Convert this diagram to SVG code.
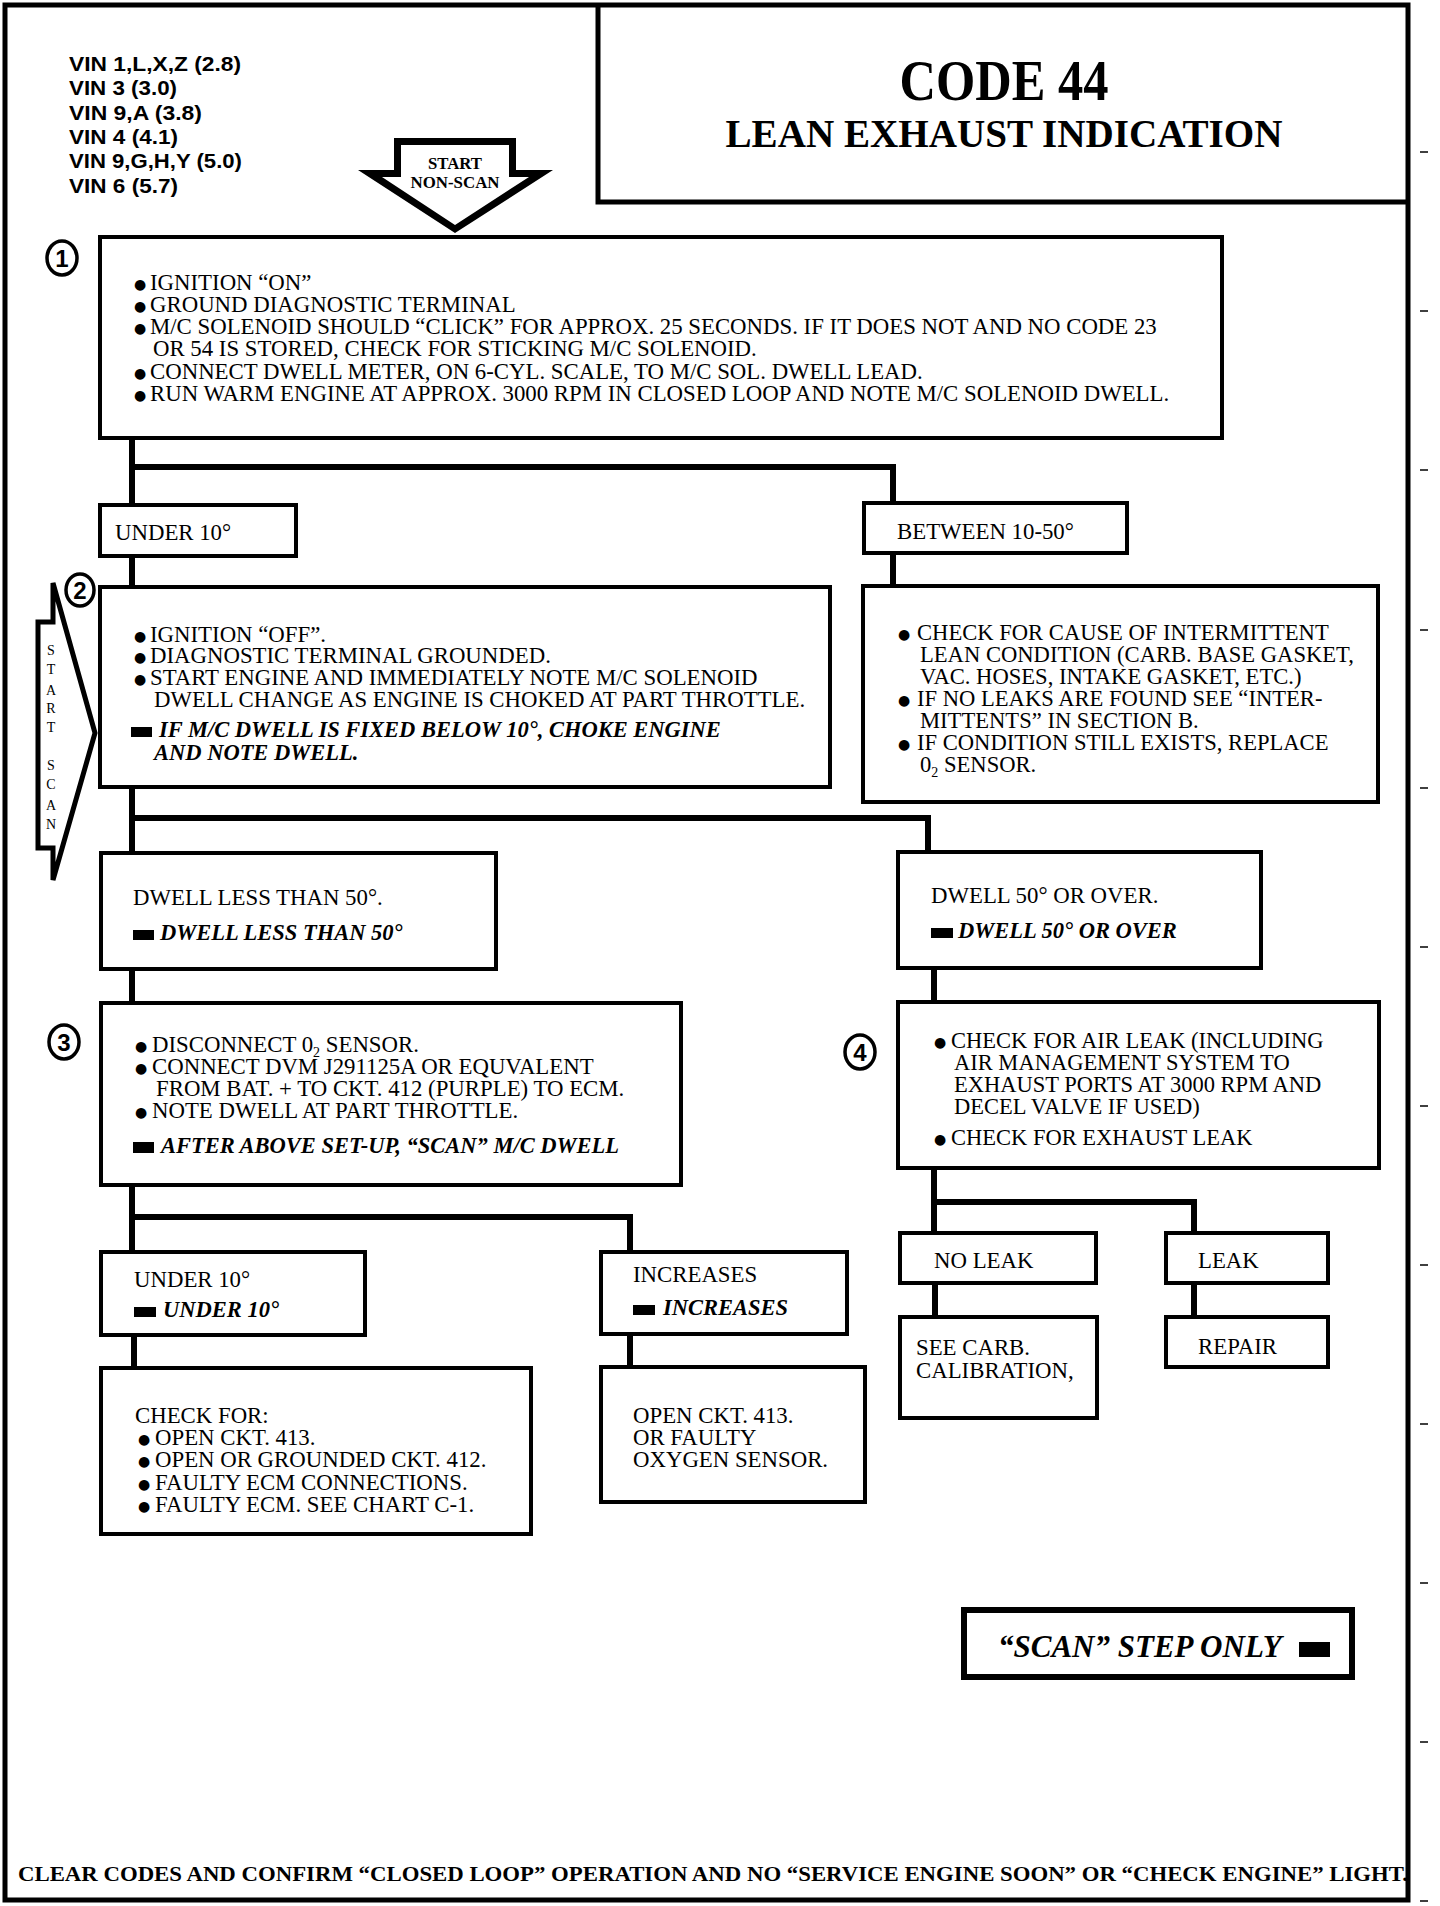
<svg xmlns="http://www.w3.org/2000/svg" width="1440" height="1906" viewBox="0 0 1440 1906">
<style>
.t{font-family:"Liberation Serif","Times New Roman",serif;font-size:22.8px;fill:#000}
.bi{font-weight:bold;font-style:italic;font-size:22.5px}
.bl{font-family:"DejaVu Sans",sans-serif;font-size:14px;fill:#000}
.box{fill:#fff;stroke:#000;stroke-width:4}
.conn{fill:none;stroke:#000;stroke-width:6;stroke-linecap:square}
.num{font-family:"Liberation Sans",Arial,sans-serif;font-weight:bold;font-size:24px;text-anchor:middle;fill:#000}
.circ{fill:#fff;stroke:#000;stroke-width:3.5}
.vin{font-family:"Liberation Sans",Arial,sans-serif;font-weight:bold;font-size:21px;fill:#000}
.tick{stroke:#000;stroke-width:1.5}
.sq{fill:#000}
.sub{font-size:14px}
</style>
<rect width="1440" height="1906" fill="#fff"/>
<g id="frame">
<path d="M5,5 H1408 V1900 H5 Z" fill="none" stroke="#000" stroke-width="5"/>
<g class="tick">
<line x1="1420" y1="152" x2="1428" y2="152"/><line x1="1420" y1="311" x2="1428" y2="311"/>
<line x1="1420" y1="470" x2="1428" y2="470"/><line x1="1420" y1="630" x2="1428" y2="630"/>
<line x1="1420" y1="788" x2="1428" y2="788"/><line x1="1420" y1="947" x2="1428" y2="947"/>
<line x1="1420" y1="1106" x2="1428" y2="1106"/><line x1="1420" y1="1265" x2="1428" y2="1265"/>
<line x1="1420" y1="1424" x2="1428" y2="1424"/><line x1="1420" y1="1583" x2="1428" y2="1583"/>
<line x1="1420" y1="1742" x2="1428" y2="1742"/><line x1="1420" y1="1901" x2="1428" y2="1901"/>
</g>
</g>
<g id="title">
<path d="M598,5 V202 H1408" fill="none" stroke="#000" stroke-width="5"/>
<text class="t" x="1004" y="100" style="font-size:56px;font-weight:bold" text-anchor="middle" textLength="209" lengthAdjust="spacingAndGlyphs">CODE 44</text>
<text class="t" x="1004" y="147" style="font-size:40px;font-weight:bold" text-anchor="middle" textLength="557" lengthAdjust="spacingAndGlyphs">LEAN EXHAUST INDICATION</text>
</g>
<g id="vin">
<text class="vin" x="69" y="71" textLength="172" lengthAdjust="spacingAndGlyphs">VIN 1,L,X,Z (2.8)</text>
<text class="vin" x="69" y="95" textLength="108" lengthAdjust="spacingAndGlyphs">VIN 3 (3.0)</text>
<text class="vin" x="69" y="120" textLength="133" lengthAdjust="spacingAndGlyphs">VIN 9,A (3.8)</text>
<text class="vin" x="69" y="144" textLength="109" lengthAdjust="spacingAndGlyphs">VIN 4 (4.1)</text>
<text class="vin" x="69" y="168" textLength="173" lengthAdjust="spacingAndGlyphs">VIN 9,G,H,Y (5.0)</text>
<text class="vin" x="69" y="193" textLength="109" lengthAdjust="spacingAndGlyphs">VIN 6 (5.7)</text>
</g>
<g id="start-nonscan">
<path fill-rule="evenodd" fill="#000" d="M394,138 H516 V170 H553 L455,233 L358,170 H394 Z M401,145 V177 H382 L455,225 L529,177 H509 V145 Z"/>
<text class="t" x="455" y="169" style="font-size:17px;font-weight:bold" text-anchor="middle" textLength="54" lengthAdjust="spacingAndGlyphs">START</text>
<text class="t" x="455" y="188" style="font-size:17px;font-weight:bold" text-anchor="middle" textLength="89" lengthAdjust="spacingAndGlyphs">NON-SCAN</text>
</g>
<g id="start-scan">
<polygon points="53,583 95,733 53,880 53,848 38,848 38,622 53,622" fill="#fff" stroke="#000" stroke-width="5" stroke-linejoin="miter"/>
<g class="t" style="font-size:14px" text-anchor="middle">
<text x="51" y="655">S</text><text x="51" y="674">T</text><text x="51" y="695">A</text><text x="51" y="713">R</text><text x="51" y="732">T</text>
<text x="51" y="770">S</text><text x="51" y="789">C</text><text x="51" y="810">A</text><text x="51" y="829">N</text>
</g>
</g>
<g id="connectors">
<path class="conn" d="M132,438 V505 M132,467 H893 V503"/>
<path class="conn" d="M132,556 V587 M893,553 V586"/>
<path class="conn" d="M132,787 V853 M132,818 H928 V852"/>
<path class="conn" d="M132,970 V1003 M934,968 V1002"/>
<path class="conn" d="M132,1185 V1252 M132,1217 H630 V1252"/>
<path class="conn" d="M134,1335 V1368 M630,1334 V1367"/>
<path class="conn" d="M934,1168 V1233 M934,1202 H1194 V1233"/>
<path class="conn" d="M935,1283 V1317 M1194,1283 V1317"/>
</g>
<g id="step1">
<ellipse class="circ" cx="62" cy="258" rx="15" ry="17"/>
<text class="num" x="62" y="267">1</text>
<rect class="box" x="100" y="237" width="1122" height="201"/>
<g class="bl"><text x="134" y="289">●</text><text x="134" y="311">●</text><text x="134" y="333">●</text><text x="134" y="378">●</text><text x="134" y="400">●</text></g>
<text class="t" x="150" y="290">IGNITION “ON”</text>
<text class="t" x="150" y="312">GROUND DIAGNOSTIC TERMINAL</text>
<text class="t" x="150" y="334">M/C SOLENOID SHOULD “CLICK” FOR APPROX. 25 SECONDS. IF IT DOES NOT AND NO CODE 23</text>
<text class="t" x="153" y="356">OR 54 IS STORED, CHECK FOR STICKING M/C SOLENOID.</text>
<text class="t" x="150" y="379">CONNECT DWELL METER, ON 6-CYL. SCALE, TO M/C SOL. DWELL LEAD.</text>
<text class="t" x="150" y="401">RUN WARM ENGINE AT APPROX. 3000 RPM IN CLOSED LOOP AND NOTE M/C SOLENOID DWELL.</text>
</g>
<g id="under10-a">
<rect class="box" x="100" y="505" width="196" height="51"/>
<text class="t" x="115" y="540">UNDER 10°</text>
</g>
<g id="between">
<rect class="box" x="864" y="503" width="263" height="50"/>
<text class="t" x="897" y="539">BETWEEN 10-50°</text>
</g>
<g id="step2">
<ellipse class="circ" cx="80" cy="590" rx="14" ry="16"/>
<text class="num" x="80" y="599">2</text>
<rect class="box" x="100" y="587" width="730" height="200"/>
<g class="bl"><text x="134" y="641">●</text><text x="134" y="662">●</text><text x="134" y="684">●</text></g>
<text class="t" x="150" y="642">IGNITION “OFF”.</text>
<text class="t" x="150" y="663">DIAGNOSTIC TERMINAL GROUNDED.</text>
<text class="t" x="150" y="685">START ENGINE AND IMMEDIATELY NOTE M/C SOLENOID</text>
<text class="t" x="154" y="707">DWELL CHANGE AS ENGINE IS CHOKED AT PART THROTTLE.</text>
<rect class="sq" x="131" y="727" width="21" height="10"/>
<text class="t bi" x="159" y="737">IF M/C DWELL IS FIXED BELOW 10°, CHOKE ENGINE</text>
<text class="t bi" x="154" y="760">AND NOTE DWELL.</text>
</g>
<g id="intermittent">
<rect class="box" x="863" y="586" width="515" height="216"/>
<g class="bl"><text x="898" y="639">●</text><text x="898" y="705">●</text><text x="898" y="749">●</text></g>
<text class="t" x="917" y="640" style="font-size:22.6px">CHECK FOR CAUSE OF INTERMITTENT</text>
<text class="t" x="920" y="662" style="font-size:22.6px">LEAN CONDITION (CARB. BASE GASKET,</text>
<text class="t" x="920" y="684" style="font-size:22.6px">VAC. HOSES, INTAKE GASKET, ETC.)</text>
<text class="t" x="917" y="706" style="font-size:22.6px">IF NO LEAKS ARE FOUND SEE “INTER-</text>
<text class="t" x="920" y="728" style="font-size:22.6px">MITTENTS” IN SECTION B.</text>
<text class="t" x="917" y="750" style="font-size:22.6px">IF CONDITION STILL EXISTS, REPLACE</text>
<text class="t" x="920" y="772" style="font-size:22.6px">0<tspan class="sub" dy="5">2</tspan><tspan dy="-5"> SENSOR.</tspan></text>
</g>
<g id="dwell-less">
<rect class="box" x="101" y="853" width="395" height="116"/>
<text class="t" x="133" y="905">DWELL LESS THAN 50°.</text>
<rect class="sq" x="133" y="930" width="21" height="10"/>
<text class="t bi" x="160" y="940">DWELL LESS THAN 50°</text>
</g>
<g id="dwell-over">
<rect class="box" x="898" y="852" width="363" height="116"/>
<text class="t" x="931" y="903">DWELL 50° OR OVER.</text>
<rect class="sq" x="931" y="928" width="22" height="10"/>
<text class="t bi" x="958" y="938">DWELL 50° OR OVER</text>
</g>
<g id="step3">
<ellipse class="circ" cx="64" cy="1042" rx="15" ry="17"/>
<text class="num" x="64" y="1051">3</text>
<rect class="box" x="101" y="1003" width="580" height="182"/>
<g class="bl"><text x="135" y="1051">●</text><text x="135" y="1073">●</text><text x="135" y="1117">●</text></g>
<text class="t" x="152" y="1052">DISCONNECT 0<tspan class="sub" dy="5">2</tspan><tspan dy="-5"> SENSOR.</tspan></text>
<text class="t" x="152" y="1074">CONNECT DVM J291125A OR EQUVALENT</text>
<text class="t" x="156" y="1096">FROM BAT. + TO CKT. 412 (PURPLE) TO ECM.</text>
<text class="t" x="152" y="1118">NOTE DWELL AT PART THROTTLE.</text>
<rect class="sq" x="133" y="1142" width="21" height="11"/>
<text class="t bi" x="161" y="1153">AFTER ABOVE SET-UP, “SCAN” M/C DWELL</text>
</g>
<g id="step4">
<ellipse class="circ" cx="860" cy="1052" rx="15" ry="17"/>
<text class="num" x="860" y="1061">4</text>
<rect class="box" x="898" y="1002" width="481" height="166"/>
<g class="bl"><text x="934" y="1047">●</text><text x="934" y="1144">●</text></g>
<text class="t" x="951" y="1048" style="font-size:22.5px">CHECK FOR AIR LEAK (INCLUDING</text>
<text class="t" x="954" y="1070" style="font-size:22.5px">AIR MANAGEMENT SYSTEM TO</text>
<text class="t" x="954" y="1092" style="font-size:22.5px">EXHAUST PORTS AT 3000 RPM AND</text>
<text class="t" x="954" y="1114" style="font-size:22.5px">DECEL VALVE IF USED)</text>
<text class="t" x="951" y="1145" style="font-size:22.5px">CHECK FOR EXHAUST LEAK</text>
</g>
<g id="under10-b">
<rect class="box" x="101" y="1252" width="264" height="83"/>
<text class="t" x="134" y="1287">UNDER 10°</text>
<rect class="sq" x="134" y="1307" width="22" height="10"/>
<text class="t bi" x="163" y="1317">UNDER 10°</text>
</g>
<g id="increases">
<rect class="box" x="601" y="1252" width="246" height="82"/>
<text class="t" x="633" y="1282">INCREASES</text>
<rect class="sq" x="633" y="1305" width="22" height="10"/>
<text class="t bi" x="663" y="1315">INCREASES</text>
</g>
<g id="check-for">
<rect class="box" x="101" y="1368" width="430" height="166"/>
<g class="bl"><text x="138" y="1444">●</text><text x="138" y="1466">●</text><text x="138" y="1489">●</text><text x="138" y="1511">●</text></g>
<text class="t" x="135" y="1423">CHECK FOR:</text>
<text class="t" x="155" y="1445">OPEN CKT. 413.</text>
<text class="t" x="155" y="1467">OPEN OR GROUNDED CKT. 412.</text>
<text class="t" x="155" y="1490">FAULTY ECM CONNECTIONS.</text>
<text class="t" x="155" y="1512">FAULTY ECM. SEE CHART C-1.</text>
</g>
<g id="open-ckt">
<rect class="box" x="601" y="1367" width="264" height="135"/>
<text class="t" x="633" y="1423">OPEN CKT. 413.</text>
<text class="t" x="633" y="1445">OR FAULTY</text>
<text class="t" x="633" y="1467">OXYGEN SENSOR.</text>
</g>
<g id="no-leak">
<rect class="box" x="900" y="1233" width="196" height="50"/>
<text class="t" x="934" y="1268">NO LEAK</text>
</g>
<g id="leak">
<rect class="box" x="1166" y="1233" width="162" height="50"/>
<text class="t" x="1198" y="1268">LEAK</text>
</g>
<g id="see-carb">
<rect class="box" x="900" y="1317" width="197" height="101"/>
<text class="t" x="916" y="1355">SEE CARB.</text>
<text class="t" x="916" y="1378">CALIBRATION,</text>
</g>
<g id="repair">
<rect class="box" x="1166" y="1317" width="162" height="50"/>
<text class="t" x="1198" y="1354">REPAIR</text>
</g>
<g id="scan-legend">
<rect x="964" y="1610" width="388" height="67" fill="#fff" stroke="#000" stroke-width="6"/>
<text class="t bi" x="998" y="1657" style="font-size:31px">“SCAN” STEP ONLY</text>
<rect class="sq" x="1299" y="1642" width="31" height="15"/>
</g>
<g id="footer">
<text class="t" x="18" y="1881" style="font-size:22px;font-weight:bold" textLength="1390" lengthAdjust="spacingAndGlyphs">CLEAR CODES AND CONFIRM “CLOSED LOOP” OPERATION AND NO “SERVICE ENGINE SOON” OR “CHECK ENGINE” LIGHT.</text>
</g>
</svg>
